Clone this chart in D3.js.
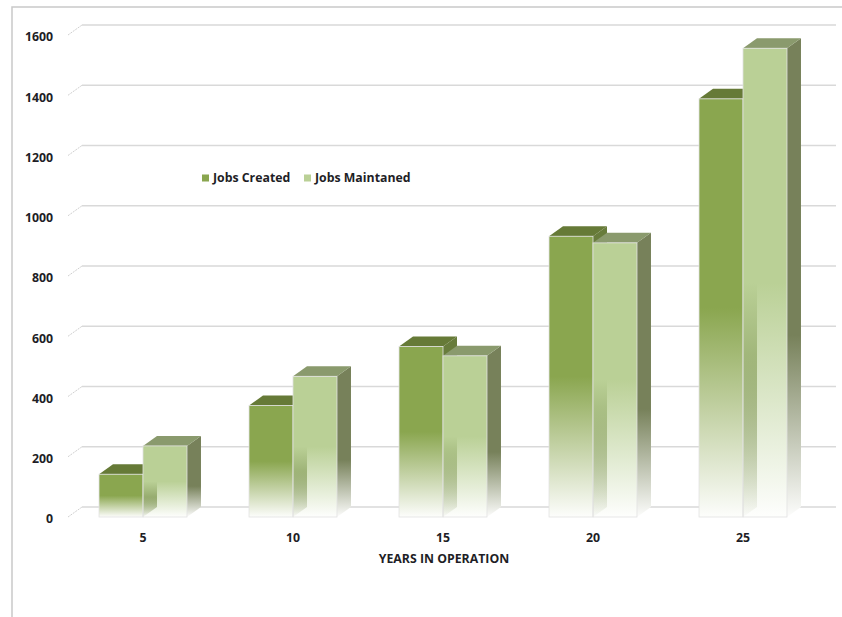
<!DOCTYPE html>
<html>
<head>
<meta charset="utf-8">
<script src="https://cdn.jsdelivr.net/npm/d3@7"></script>
<style>
  html, body { margin: 0; padding: 0; background: #ffffff; }
  text { font-family: "Open Sans", "Noto Sans", sans-serif; font-weight: 700; fill: #1e1e26; }
</style>
</head>
<body>
<script>
// ---- data ----
const categories = ["5", "10", "15", "20", "25"];
const seriesNames = ["Jobs Created", "Jobs Maintaned"];
const jobsCreated = [142, 370, 566, 932, 1388];
const jobsMaintained = [236, 467, 535, 910, 1556];
const yTicks = [0, 200, 400, 600, 800, 1000, 1200, 1400, 1600];
const xTitle = "YEARS IN OPERATION";

// ---- styles ----
const frontColors = ["#8aa64f", "#bad096"];
const topColors = ["#667a37", "#8a9a6d"];
const sideColors = ["#687c3c", "#77815a"];
const DX = 14, DY = 10;

const W = 842, H = 617;
const svg = d3.select("body").append("svg").attr("width", W).attr("height", H);

const y = d3.scaleLinear().domain([0, 1600]).range([517, 35]);
const x = d3.scaleBand().domain(categories).range([68, 818]).paddingInner(0).paddingOuter(0);
const xs = d3.scaleBand().domain(seriesNames).range([0, x.bandwidth()]).paddingInner(0).paddingOuter(0.705);

// outer frame
svg.append("path").attr("d", "M12,617 V7 H842").attr("fill", "none")
  .attr("stroke", "#c9c9c9").attr("stroke-width", 1.5);

// gradients
const defs = svg.append("defs");
function grad(id, color, solid) {
  const g = defs.append("linearGradient").attr("id", id)
    .attr("x1", 0).attr("y1", 0).attr("x2", 0).attr("y2", 1);
  g.append("stop").attr("offset", 0).attr("stop-color", color).attr("stop-opacity", 1);
  g.append("stop").attr("offset", solid).attr("stop-color", color).attr("stop-opacity", 1);
  g.append("stop").attr("offset", 1).attr("stop-color", color).attr("stop-opacity", 0.02);
}
seriesNames.forEach((s, i) => {
  grad("front" + i, frontColors[i], 0.5);
  grad("side" + i, sideColors[i], 0.62);
});

// back wall gridlines + left wall slants
const grid = svg.append("g");
yTicks.forEach(t => {
  const yy = y(t);
  grid.append("line").attr("x1", 68 + DX).attr("x2", 822 + DX)
    .attr("y1", yy - DY).attr("y2", yy - DY)
    .attr("stroke", "#d9d9d9").attr("stroke-width", 1.3);
  grid.append("line").attr("x1", 68).attr("y1", yy).attr("x2", 68 + DX).attr("y2", yy - DY)
    .attr("stroke", "#d0d0d0").attr("stroke-width", 1).attr("stroke-dasharray", "2,1");
});

// y tick labels
svg.append("g").selectAll("text").data(yTicks).join("text")
  .attr("x", 53).attr("y", d => y(d) + 2).attr("dy", "0.36em")
  .attr("text-anchor", "end").attr("font-size", 12.3).text(d => d);

// bars
const seriesValues = [jobsCreated, jobsMaintained];
const barsG = svg.append("g");
categories.forEach((c, ci) => {
  const g = barsG.append("g");
  const geo = seriesNames.map((s, si) => {
    const x0 = x(c) + xs(s), w = xs.bandwidth();
    const yt = y(seriesValues[si][ci]), yb = y(0);
    return { x0, w, yt, yb, si };
  });
  // white backing silhouettes
  geo.forEach(b => {
    g.append("polygon").attr("fill", "#ffffff").attr("points", [
      [b.x0, b.yb], [b.x0, b.yt], [b.x0 + DX, b.yt - DY], [b.x0 + b.w + DX, b.yt - DY],
      [b.x0 + b.w + DX, b.yb - DY], [b.x0 + b.w, b.yb]].map(p => p.join(",")).join(" "));
  });
  geo.forEach(b => {
    // side
    g.append("polygon").attr("fill", `url(#side${b.si})`).attr("points", [
      [b.x0 + b.w, b.yt], [b.x0 + b.w + DX, b.yt - DY], [b.x0 + b.w + DX, b.yb - DY], [b.x0 + b.w, b.yb]
    ].map(p => p.join(",")).join(" "));
    // top
    g.append("polygon").attr("fill", topColors[b.si]).attr("points", [
      [b.x0, b.yt], [b.x0 + b.w, b.yt], [b.x0 + b.w + DX, b.yt - DY], [b.x0 + DX, b.yt - DY]
    ].map(p => p.join(",")).join(" "));
    // front
    g.append("rect").attr("x", b.x0).attr("y", b.yt).attr("width", b.w).attr("height", b.yb - b.yt)
      .attr("fill", `url(#front${b.si})`)
      .attr("stroke", "#e2e2e2").attr("stroke-width", 0.8);
  });
});

// category labels
svg.append("g").selectAll("text").data(categories).join("text")
  .attr("x", d => x(d) + x.bandwidth() / 2).attr("y", 538).attr("dy", "0.36em")
  .attr("text-anchor", "middle").attr("font-size", 12.3).text(d => d);

// axis title
svg.append("text").attr("x", 444).attr("y", 559).attr("dy", "0.36em")
  .attr("text-anchor", "middle").attr("font-size", 12.3).text(xTitle);

// legend
const legX = [202, 304];
seriesNames.forEach((s, i) => {
  svg.append("rect").attr("x", legX[i]).attr("y", 174.5).attr("width", 7).attr("height", 7)
    .attr("fill", frontColors[i]);
  svg.append("text").attr("x", legX[i] + 11).attr("y", 178).attr("dy", "0.36em")
    .attr("font-size", 12.3).text(s);
});
</script>
</body>
</html>
